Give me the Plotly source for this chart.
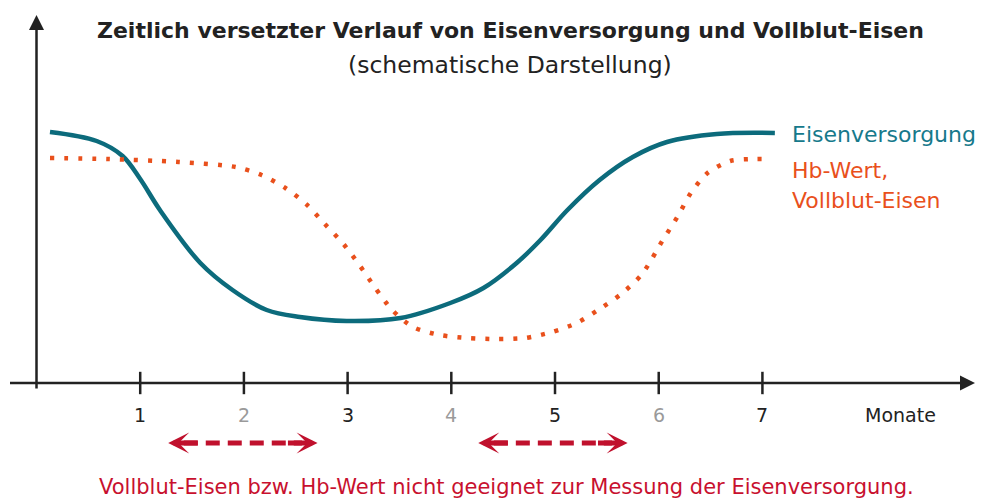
import plotly.graph_objects as go

# Time in months, level in relative (schematic) units
eisen_x = [0.13, 0.58, 0.83, 1.00, 1.19, 1.58, 1.89, 2.22, 2.54, 2.99, 3.51, 3.99,
           4.31, 4.63, 4.86, 5.12, 5.43, 5.75, 6.08, 6.56, 7.12]
eisen_y = [251, 242, 227, 204, 173, 120, 93, 73, 66, 62, 65, 80,
           95, 120, 143, 173, 203, 226, 241, 249, 250]

hb_x = [0.13, 0.69, 1.37, 1.92, 2.17, 2.40, 2.61, 2.78, 2.96, 3.12, 3.26, 3.43, 3.63, 3.89,
        4.16, 4.44, 4.71, 4.97, 5.21, 5.43, 5.65, 5.84, 6.04, 6.18, 6.31, 6.47, 6.69, 6.93, 7.05]
hb_y = [225, 224, 221, 216, 208, 195, 178, 159, 139, 117, 96, 73, 56, 48,
        45, 44, 45, 51, 60, 74, 90, 109, 143, 166, 190, 210, 222, 224, 224]

months = [1, 2, 3, 4, 5, 6, 7]
month_labels = ["1", "2", "3", "4", "5", "6", "7"]
month_colors = ["#222222", "#9a9a9a", "#222222", "#9a9a9a", "#222222", "#9a9a9a", "#222222"]

# ranges where the indicated parameter is not suitable (months)
ranges = [(1.27, 2.71), (4.26, 5.70)]

TEAL = "#0c6b7c"
ORANGE = "#e9501c"
RED = "#c0112d"
DARK = "#222222"
FONT = "DejaVu Sans"

fig = go.Figure()

fig.add_trace(go.Scatter(x=eisen_x, y=eisen_y, mode="lines",
                         line=dict(color=TEAL, width=4.5, shape="spline", smoothing=1.0),
                         hoverinfo="skip"))
fig.add_trace(go.Scatter(x=hb_x, y=hb_y, mode="lines",
                         line=dict(color=ORANGE, width=4.5, shape="spline", smoothing=0.8,
                                   dash="4px,10px"),
                         hoverinfo="skip"))

# tick marks on the x axis
fig.add_trace(go.Scatter(x=months, y=[0] * len(months), mode="markers",
                         marker=dict(symbol="line-ns", size=16,
                                     line=dict(color=DARK, width=2.5)),
                         hoverinfo="skip"))

# dashed red ranges
for a, b in ranges:
    fig.add_trace(go.Scatter(x=[a + 0.15, b - 0.15], y=[-60, -60], mode="lines",
                             line=dict(color=RED, width=5, dash="14px,8px"),
                             hoverinfo="skip"))

ann = []
# axes with arrows
ann.append(dict(x=9.05, y=0, ax=-0.27, ay=0, axref="x", ayref="y", xref="x", yref="y",
                text="", showarrow=True, arrowhead=2, arrowwidth=2.5, arrowsize=1.2,
                arrowcolor=DARK))
ann.append(dict(x=0, y=368, ax=0, ay=-7, axref="x", ayref="y", xref="x", yref="y",
                text="", showarrow=True, arrowhead=2, arrowwidth=2.5, arrowsize=1.2,
                arrowcolor=DARK))
# red arrow heads
for a, b in ranges:
    ann.append(dict(x=a, y=-60, ax=a + 0.3, ay=-60, axref="x", ayref="y", xref="x", yref="y",
                    text="", showarrow=True, arrowhead=3, arrowwidth=5, arrowsize=0.7,
                    arrowcolor=RED))
    ann.append(dict(x=b, y=-60, ax=b - 0.3, ay=-60, axref="x", ayref="y", xref="x", yref="y",
                    text="", showarrow=True, arrowhead=3, arrowwidth=5, arrowsize=0.7,
                    arrowcolor=RED))

for m, lab, c in zip(months, month_labels, month_colors):
    ann.append(dict(x=m, y=-32, text=lab, showarrow=False, xref="x", yref="y",
                    font=dict(family=FONT, size=19, color=c)))
ann.append(dict(x=8.33, y=-32, text="Monate", showarrow=False, xref="x", yref="y",
                font=dict(family=FONT, size=19, color=DARK)))

ann.append(dict(x=7.27, y=249, text="Eisenversorgung", showarrow=False, xanchor="left",
                xref="x", yref="y", font=dict(family=FONT, size=22, color="#16798b")))
ann.append(dict(x=7.27, y=213, text="Hb-Wert,", showarrow=False, xanchor="left",
                xref="x", yref="y", font=dict(family=FONT, size=22, color=ORANGE)))
ann.append(dict(x=7.27, y=183, text="Vollblut-Eisen", showarrow=False, xanchor="left",
                xref="x", yref="y", font=dict(family=FONT, size=22, color=ORANGE)))

ann.append(dict(x=4.57, y=353, text="<b>Zeitlich versetzter Verlauf von Eisenversorgung und Vollblut-Eisen</b>",
                showarrow=False, xref="x", yref="y",
                font=dict(family=FONT, size=22, color=DARK)))
ann.append(dict(x=4.57, y=318, text="(schematische Darstellung)",
                showarrow=False, xref="x", yref="y",
                font=dict(family=FONT, size=23.5, color=DARK)))
ann.append(dict(x=4.53, y=-104,
                text="Vollblut-Eisen bzw. Hb-Wert nicht geeignet zur Messung der Eisenversorgung.",
                showarrow=False, xref="x", yref="y",
                font=dict(family=FONT, size=21, color="#c8102e")))

fig.update_layout(
    width=1000, height=504,
    margin=dict(l=0, r=0, t=0, b=0),
    paper_bgcolor="white", plot_bgcolor="white",
    showlegend=False,
    xaxis=dict(range=[-0.352, 9.291], visible=False, fixedrange=True),
    yaxis=dict(range=[-121, 383], visible=False, fixedrange=True),
    annotations=ann,
    hovermode=False,
)

fig.write_html("out.html", config={"displayModeBar": False},
               post_script="document.body.style.margin='0';document.body.style.overflow='hidden';")
